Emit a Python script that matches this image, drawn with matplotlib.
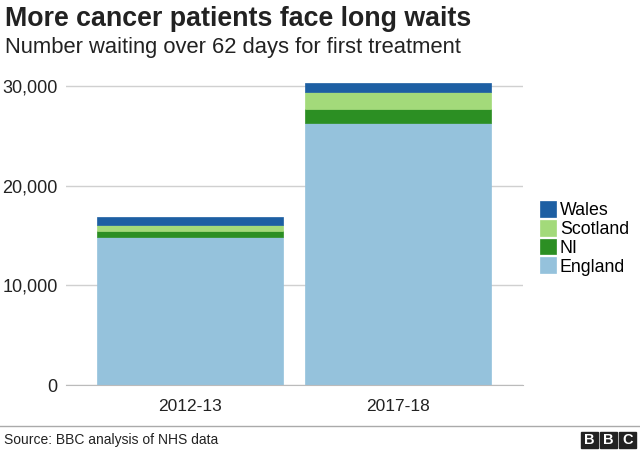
"""Stacked bar chart: cancer patients waiting over 62 days."""
import matplotlib.pyplot as plt
from matplotlib.patches import Rectangle

plt.rcParams['font.family'] = ['Liberation Sans', 'DejaVu Sans']

years = ['2012-13', '2017-18']
england = [14870, 26250]
ni = [600, 1410]
scotland = [610, 1710]
wales = [810, 940]

series = [('England', england, '#95c2dc'),
          ('NI', ni, '#2c8f23'),
          ('Scotland', scotland, '#a3da7a'),
          ('Wales', wales, '#1d5fa3')]

fig = plt.figure(figsize=(6.4, 4.5), dpi=100)
ax = fig.add_axes([0.103, 0.1444, 0.714, 0.687])

x = list(range(len(years)))
bottom = [0] * len(years)
handles = []
for name, vals, col in series:
    h = ax.bar(x, vals, bottom=bottom, width=0.894, color=col, label=name,
               edgecolor=col, linewidth=0.5, zorder=3)
    handles.append(h)
    bottom = [b + v for b, v in zip(bottom, vals)]

ax.set_xlim(-0.596, 1.601)
ax.set_ylim(0, 31000)
ax.set_yticks([0, 10000, 20000, 30000])
ax.set_yticklabels(['0', '10,000', '20,000', '30,000'])
ax.set_xticks(x)
ax.set_xticklabels(years)
ax.tick_params(axis='y', length=0, labelsize=13, colors='#222222', pad=6)
ax.tick_params(axis='x', length=0, labelsize=12.5, colors='#222222', pad=10)
ax.grid(axis='y', color='#d0d0d0', linewidth=1, zorder=0)
for s in ['top', 'right', 'left']:
    ax.spines[s].set_visible(False)
ax.spines['bottom'].set_color('#bbbbbb')
ax.spines['bottom'].set_zorder(4)

leg = fig.legend(handles[::-1], [s[0] for s in series][::-1],
                 loc='upper left', bbox_to_anchor=(0.843, 0.554),
                 frameon=False, fontsize=12.8, handlelength=0.95,
                 handleheight=1.0, handletextpad=0.2, labelspacing=0.05,
                 borderaxespad=0, borderpad=0)

fig.text(0.008, 1 - 19 / 450, 'More cancer patients face long waits',
         fontsize=19.3, fontweight='bold', color='#222222', va='center')
fig.text(0.008, 1 - 47 / 450, 'Number waiting over 62 days for first treatment',
         fontsize=15.8, color='#222222', va='center')

# footer
fig.add_artist(plt.Line2D([0, 1], [1 - 426 / 450] * 2, color='#aaaaaa',
                          linewidth=1, transform=fig.transFigure))
fig.text(0.006, 1 - 440 / 450, 'Source: BBC analysis of NHS data',
         fontsize=10, color='#222222', va='center')
for i, letter in enumerate('BBC'):
    x0 = (581 + i * 19) / 640
    fig.add_artist(Rectangle((x0, 1 - 448 / 450), 17 / 640, 16 / 450,
                             transform=fig.transFigure, color='#222222'))
    fig.text(x0 + 8.5 / 640, 1 - 440 / 450, letter, fontsize=10.5,
             fontweight='bold', color='white', ha='center', va='center')

plt.savefig('out.png', dpi=100)
